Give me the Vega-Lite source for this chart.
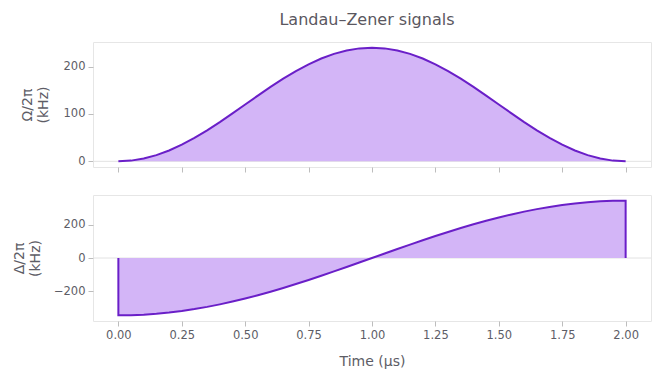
{
  "$schema": "https://vega.github.io/schema/vega-lite/v6.json",
  "background": "white",
  "padding": {"left": 11, "top": 11, "right": 7, "bottom": 2},
  "title": {"text": "Landau–Zener signals", "fontSize": 16, "font": "DejaVu Sans", "fontWeight": "normal", "color": "#5a5760", "anchor": "middle", "offset": 14, "dx": 35},
  "config": {
    "view": {"stroke": "#e6e6e6"},
    "font": "DejaVu Sans",
    "axis": {"labelFont": "DejaVu Sans", "labelFontSize": 11.5, "labelColor": "#5d5d66", "titleFont": "DejaVu Sans", "titleFontSize": 14, "titleFontWeight": "normal", "titleColor": "#5d5d66", "titleLineHeight": 16, "domain": false, "grid": false, "tickColor": "#bdbdbd", "tickSize": 5, "labelPadding": 3}
  },
  "datasets": {
    "omega": [
      {"t": 0.0, "v": 0}, {"t": 0.05, "v": 1.48}, {"t": 0.1, "v": 5.87}, {"t": 0.15, "v": 13.08}, {"t": 0.2, "v": 22.92},
      {"t": 0.25, "v": 35.15}, {"t": 0.3, "v": 49.47}, {"t": 0.35, "v": 65.52}, {"t": 0.4, "v": 82.92}, {"t": 0.45, "v": 101.23},
      {"t": 0.5, "v": 120}, {"t": 0.55, "v": 138.77}, {"t": 0.6, "v": 157.08}, {"t": 0.65, "v": 174.48}, {"t": 0.7, "v": 190.53},
      {"t": 0.75, "v": 204.85}, {"t": 0.8, "v": 217.08}, {"t": 0.85, "v": 226.92}, {"t": 0.9, "v": 234.13}, {"t": 0.95, "v": 238.52},
      {"t": 1.0, "v": 240},
      {"t": 1.05, "v": 238.52}, {"t": 1.1, "v": 234.13}, {"t": 1.15, "v": 226.92}, {"t": 1.2, "v": 217.08}, {"t": 1.25, "v": 204.85},
      {"t": 1.3, "v": 190.53}, {"t": 1.35, "v": 174.48}, {"t": 1.4, "v": 157.08}, {"t": 1.45, "v": 138.77}, {"t": 1.5, "v": 120},
      {"t": 1.55, "v": 101.23}, {"t": 1.6, "v": 82.92}, {"t": 1.65, "v": 65.52}, {"t": 1.7, "v": 49.47}, {"t": 1.75, "v": 35.15},
      {"t": 1.8, "v": 22.92}, {"t": 1.85, "v": 13.08}, {"t": 1.9, "v": 5.87}, {"t": 1.95, "v": 1.48}, {"t": 2.0, "v": 0}
    ],
    "delta": [
      {"i": 0, "t": 0.0, "v": 0},
      {"i": 1, "t": 0.0, "v": -344}, {"i": 2, "t": 0.05, "v": -342.94}, {"i": 3, "t": 0.1, "v": -339.77}, {"i": 4, "t": 0.15, "v": -334.5},
      {"i": 5, "t": 0.2, "v": -327.16}, {"i": 6, "t": 0.25, "v": -317.81}, {"i": 7, "t": 0.3, "v": -306.51}, {"i": 8, "t": 0.35, "v": -293.31},
      {"i": 9, "t": 0.4, "v": -278.3}, {"i": 10, "t": 0.45, "v": -261.58}, {"i": 11, "t": 0.5, "v": -243.25}, {"i": 12, "t": 0.55, "v": -223.41},
      {"i": 13, "t": 0.6, "v": -202.2}, {"i": 14, "t": 0.65, "v": -179.74}, {"i": 15, "t": 0.7, "v": -156.17}, {"i": 16, "t": 0.75, "v": -131.64},
      {"i": 17, "t": 0.8, "v": -106.3}, {"i": 18, "t": 0.85, "v": -80.31}, {"i": 19, "t": 0.9, "v": -53.81}, {"i": 20, "t": 0.95, "v": -26.99},
      {"i": 21, "t": 1.0, "v": 0},
      {"i": 22, "t": 1.05, "v": 26.99}, {"i": 23, "t": 1.1, "v": 53.81}, {"i": 24, "t": 1.15, "v": 80.31}, {"i": 25, "t": 1.2, "v": 106.3},
      {"i": 26, "t": 1.25, "v": 131.64}, {"i": 27, "t": 1.3, "v": 156.17}, {"i": 28, "t": 1.35, "v": 179.74}, {"i": 29, "t": 1.4, "v": 202.2},
      {"i": 30, "t": 1.45, "v": 223.41}, {"i": 31, "t": 1.5, "v": 243.25}, {"i": 32, "t": 1.55, "v": 261.58}, {"i": 33, "t": 1.6, "v": 278.3},
      {"i": 34, "t": 1.65, "v": 293.31}, {"i": 35, "t": 1.7, "v": 306.51}, {"i": 36, "t": 1.75, "v": 317.81}, {"i": 37, "t": 1.8, "v": 327.16},
      {"i": 38, "t": 1.85, "v": 334.5}, {"i": 39, "t": 1.9, "v": 339.77}, {"i": 40, "t": 1.95, "v": 342.94}, {"i": 41, "t": 2.0, "v": 344},
      {"i": 42, "t": 2.0, "v": 0}
    ],
    "zero": [{"z": 0}]
  },
  "spacing": 21,
  "vconcat": [
    {
      "width": 558,
      "height": 125,
      "layer": [
        {
          "data": {"name": "zero"},
          "mark": {"type": "rule", "color": "#e2e2e2", "strokeWidth": 1},
          "encoding": {"y": {"field": "z", "type": "quantitative"}}
        },
        {
          "data": {"name": "omega"},
          "mark": {"type": "area", "color": "#d3b5f7", "opacity": 1},
          "encoding": {
            "x": {"field": "t", "type": "quantitative", "scale": {"domain": [-0.1, 2.1], "nice": false, "zero": false}, "axis": {"values": [0, 0.25, 0.5, 0.75, 1, 1.25, 1.5, 1.75, 2], "labels": false, "title": null}},
            "y": {"field": "v", "type": "quantitative", "scale": {"domain": [-12, 252], "nice": false, "zero": false}, "axis": {"values": [0, 100, 200], "title": ["Ω/2π", "(kHz)"], "titlePadding": 13}},
            "y2": {"datum": 0}
          }
        },
        {
          "data": {"name": "omega"},
          "mark": {"type": "line", "color": "#6a1fc8", "strokeWidth": 2},
          "encoding": {
            "x": {"field": "t", "type": "quantitative"},
            "y": {"field": "v", "type": "quantitative"}
          }
        }
      ]
    },
    {
      "width": 558,
      "height": 126,
      "layer": [
        {
          "data": {"name": "zero"},
          "mark": {"type": "rule", "color": "#e2e2e2", "strokeWidth": 1},
          "encoding": {"y": {"field": "z", "type": "quantitative"}}
        },
        {
          "data": {"name": "delta"},
          "mark": {"type": "area", "color": "#d3b5f7", "opacity": 1},
          "encoding": {
            "x": {"field": "t", "type": "quantitative", "scale": {"domain": [-0.1, 2.1], "nice": false, "zero": false}, "axis": {"values": [0, 0.25, 0.5, 0.75, 1, 1.25, 1.5, 1.75, 2], "format": ".2f", "title": "Time (µs)", "titlePadding": 14}},
            "y": {"field": "v", "type": "quantitative", "scale": {"domain": [-378, 378], "nice": false, "zero": false}, "axis": {"values": [-200, 0, 200], "title": ["Δ/2π", "(kHz)"], "titlePadding": 11}},
            "y2": {"datum": 0}
          }
        },
        {
          "data": {"name": "delta"},
          "mark": {"type": "line", "color": "#6a1fc8", "strokeWidth": 2},
          "encoding": {
            "x": {"field": "t", "type": "quantitative"},
            "y": {"field": "v", "type": "quantitative"},
            "order": {"field": "i", "type": "quantitative"}
          }
        }
      ]
    }
  ]
}
